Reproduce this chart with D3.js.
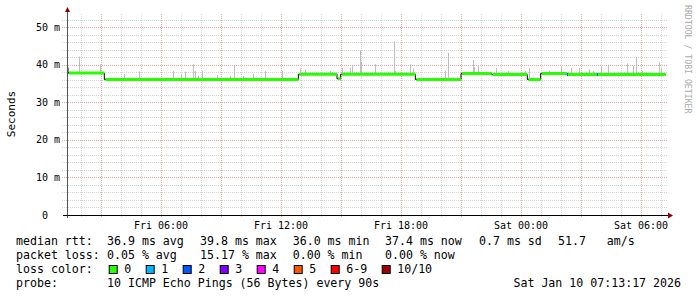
<!DOCTYPE html>
<html>
<head>
<meta charset="utf-8">
<script src="https://cdnjs.cloudflare.com/ajax/libs/d3/7.8.5/d3.min.js"></script>
<style>
body { margin: 0; background: #fff; }
text { font-family: "DejaVu Sans Mono", monospace; }
</style>
</head>
<body>
<div id="chart"></div>
<script>
var width = 697;
var height = 297;

// median rtt steps (value holds until the next time)
var medianTimes = ["2026-01-09 01:18", "2026-01-09 01:21", "2026-01-09 03:10", "2026-01-09 12:52",
  "2026-01-09 14:48", "2026-01-09 14:59", "2026-01-09 18:43", "2026-01-09 21:00", "2026-01-09 22:32",
  "2026-01-10 00:19", "2026-01-10 00:59", "2026-01-10 02:18", "2026-01-10 07:14"];
var medianValues = [39.3, 37.8, 36.1, 37.5, 36.3, 37.5, 36.1, 37.7, 37.4, 36.1, 37.7, 37.4, 37.4];

// smoke spikes: time and top of the ping spread (ms)
var smokeTimes = ["2026-01-09 01:53", "2026-01-09 02:57", "2026-01-09 04:09", "2026-01-09 04:55",
  "2026-01-09 06:35", "2026-01-09 06:59", "2026-01-09 07:13", "2026-01-09 07:37", "2026-01-09 07:42",
  "2026-01-09 07:52", "2026-01-09 08:03", "2026-01-09 08:48", "2026-01-09 09:27", "2026-01-09 09:39",
  "2026-01-09 10:07", "2026-01-09 10:37", "2026-01-09 11:13", "2026-01-09 12:02", "2026-01-09 12:57",
  "2026-01-09 13:13", "2026-01-09 14:27", "2026-01-09 15:04", "2026-01-09 15:27", "2026-01-09 15:33",
  "2026-01-09 15:57", "2026-01-09 16:00", "2026-01-09 16:43", "2026-01-09 17:39", "2026-01-09 17:43",
  "2026-01-09 18:28", "2026-01-09 18:36", "2026-01-09 20:12", "2026-01-09 20:22", "2026-01-09 21:35",
  "2026-01-09 21:39", "2026-01-09 21:52", "2026-01-09 22:45", "2026-01-09 23:22", "2026-01-10 00:12",
  "2026-01-10 00:24", "2026-01-10 01:24", "2026-01-10 01:59", "2026-01-10 02:12", "2026-01-10 02:29",
  "2026-01-10 02:55", "2026-01-10 03:25", "2026-01-10 03:35", "2026-01-10 03:59", "2026-01-10 04:22",
  "2026-01-10 05:19", "2026-01-10 05:36", "2026-01-10 05:45", "2026-01-10 06:02", "2026-01-10 06:55",
  "2026-01-10 06:59"];
var smokeTops = [42.2, 40.2, 37.6, 38.2, 38.4, 37.4, 38.2, 40.2, 38.4, 37.1, 38.4, 37.3, 37.0, 40.0,
  37.0, 37.6, 38.4, 38.4, 39.1, 38.8, 38.4, 39.1, 39.1, 39.7, 43.8, 40.8, 40.2, 46.3, 38.4, 40.2,
  39.1, 38.4, 43.2, 41.3, 39.4, 40.0, 39.1, 38.4, 38.4, 39.1, 38.4, 39.7, 37.8, 39.1, 39.1, 38.8,
  38.4, 39.7, 40.0, 40.4, 39.7, 42.2, 38.4, 40.7, 39.1];

// samples with packet loss (count of 10)
var lossTimes = ["2026-01-10 02:18", "2026-01-10 03:48"];
var lossCounts = [2, 2];

var lossLabels = ["0", "1", "2", "3", "4", "5", "6-9", "10/10"];
var lossColors = ["#26ff00", "#00b8ff", "#0059ff", "#7e00ff", "#ff00ff", "#ff5500", "#ff0000", "#a10000"];

var yTicks = [0, 10, 20, 30, 40, 50];
var rttStats = ["36.9 ms avg", "39.8 ms max", "36.0 ms min", "37.4 ms now", "0.7 ms sd", "51.7   am/s"];
var lossStats = ["0.05 % avg", "15.17 % max", "0.00 % min", "0.00 % now"];
var probeText = "10 ICMP Echo Pings (56 Bytes) every 90s";
var stampText = "Sat Jan 10 07:13:17 2026";

var parse = d3.utcParse("%Y-%m-%d %H:%M");
var median = medianTimes.map(function(t, i) { return {t: parse(t), v: medianValues[i]}; });
var smoke = smokeTimes.map(function(t, i) { return {t: parse(t), v: smokeTops[i]}; });

function medianAt(t) {
  var v = median[0].v;
  median.forEach(function(d) { if (d.t <= t) v = d.v; });
  return v;
}

var svg = d3.select("#chart").append("svg")
  .attr("width", width)
  .attr("height", height);

var plotLeft = 67, plotRight = 667, plotTop = 14, plotBottom = 215;

var x = d3.scaleUtc()
  .domain([parse("2026-01-09 01:18"), parse("2026-01-10 07:18")])
  .range([plotLeft, plotRight]);

var y = d3.scaleLinear()
  .domain([0, 53.55])
  .range([plotBottom, plotTop]);

// grid
var hours = d3.utcHour.every(1).range(x.domain()[0], x.domain()[1]);
svg.append("g").selectAll("line")
  .data(hours)
  .enter().append("line")
  .attr("x1", function(d) { return Math.round(x(d)) + 0.5; })
  .attr("x2", function(d) { return Math.round(x(d)) + 0.5; })
  .attr("y1", plotTop)
  .attr("y2", plotBottom + 3)
  .attr("stroke", function(d) { return d.getUTCHours() % 3 == 0 ? "#e3a8a8" : "#d4d4d4"; })
  .attr("stroke-dasharray", "1,1");

var yMinor = d3.range(2, 54, 2);
svg.append("g").selectAll("line")
  .data(yMinor)
  .enter().append("line")
  .attr("x1", plotLeft - 5)
  .attr("x2", plotRight + 1)
  .attr("y1", function(d) { return Math.round(y(d)) + 0.5; })
  .attr("y2", function(d) { return Math.round(y(d)) + 0.5; })
  .attr("stroke", function(d) { return d % 10 == 0 ? "#e3a8a8" : "#d4d4d4"; })
  .attr("stroke-dasharray", "1,1");

// smoke
svg.append("g").selectAll("rect")
  .data(smoke)
  .enter().append("rect")
  .attr("x", function(d) { return Math.round(x(d.t)); })
  .attr("width", 1)
  .attr("y", function(d) { return y(d.v); })
  .attr("height", function(d) { return y(medianAt(d.t)) - y(d.v); })
  .attr("fill", "#bdbdbd");

// median: thin black step, then green segments
var step = d3.line()
  .x(function(d) { return x(d.t); })
  .y(function(d) { return y(d.v); })
  .curve(d3.curveStepAfter);

svg.append("path")
  .attr("d", step(median))
  .attr("fill", "none")
  .attr("stroke", "#000")
  .attr("stroke-width", 1);

svg.append("g").selectAll("line")
  .data(median.slice(0, -1))
  .enter().append("line")
  .attr("x1", function(d) { return x(d.t) + 1; })
  .attr("x2", function(d, i) { return x(median[i + 1].t); })
  .attr("y1", function(d) { return y(d.v); })
  .attr("y2", function(d) { return y(d.v); })
  .attr("stroke", lossColors[0])
  .attr("stroke-width", 3);

svg.append("g").selectAll("rect")
  .data(lossTimes)
  .enter().append("rect")
  .attr("x", function(d) { return Math.round(x(parse(d))); })
  .attr("width", 1)
  .attr("y", function(d) { return y(medianAt(parse(d))) - 1.5; })
  .attr("height", 3)
  .attr("fill", function(d, i) { return lossColors[lossCounts[i]]; });

// axes
svg.append("line")
  .attr("x1", plotLeft + 0.5).attr("x2", plotLeft + 0.5)
  .attr("y1", plotTop - 4).attr("y2", plotBottom + 3)
  .attr("stroke", "#555");
svg.append("line")
  .attr("x1", plotLeft - 4).attr("x2", plotRight + 2)
  .attr("y1", plotBottom + 0.5).attr("y2", plotBottom + 0.5)
  .attr("stroke", "#000");
svg.append("path")
  .attr("d", "M" + (plotLeft - 2) + "," + (plotTop - 2) + "L" + (plotLeft + 3) + "," + (plotTop - 2) + "L" + (plotLeft + 0.5) + "," + (plotTop - 7) + "Z")
  .attr("fill", "#8b0000");
svg.append("path")
  .attr("d", "M" + (plotRight + 1) + "," + (plotBottom - 2.5) + "L" + (plotRight + 1) + "," + (plotBottom + 3.5) + "L" + (plotRight + 6) + "," + (plotBottom + 0.5) + "Z")
  .attr("fill", "#8b0000");

// tick labels
svg.append("g").selectAll("text")
  .data(yTicks)
  .enter().append("text")
  .attr("x", function(d) { return d == 0 ? 48 : 60; })
  .attr("y", function(d) { return y(d) + 3.5; })
  .attr("text-anchor", "end")
  .attr("font-size", "10px")
  .text(function(d) { return d == 0 ? "0" : d + " m"; });

var labelHours = d3.utcHour.every(6).range(x.domain()[0], x.domain()[1]);
var fmt = d3.utcFormat("%a %H:%M");
svg.append("g").selectAll("text")
  .data(labelHours)
  .enter().append("text")
  .attr("x", function(d) { return x(d); })
  .attr("y", 228.5)
  .attr("text-anchor", "middle")
  .attr("font-size", "10px")
  .text(function(d) { return fmt(d); });

svg.append("text")
  .attr("transform", "translate(15,114) rotate(-90)")
  .attr("text-anchor", "middle")
  .attr("font-size", "11px")
  .text("Seconds");

svg.append("text")
  .attr("transform", "translate(685,5) rotate(90)")
  .attr("font-size", "8.2px")
  .attr("fill", "#aaa")
  .text("RRDTOOL / TOBI OETIKER");

// legend
var fs = "11.6px";
var cols = [107, 200, 292.7, 385, 479, 558];
svg.append("text").attr("x", 16).attr("y", 245).attr("font-size", fs).text("median rtt:");
rttStats.forEach(function(s, i) {
  svg.append("text").attr("x", cols[i]).attr("y", 245).attr("font-size", fs)
    .attr("xml:space", "preserve").style("white-space", "pre").text(s);
});
svg.append("text").attr("x", 16).attr("y", 259).attr("font-size", fs).text("packet loss:");
lossStats.forEach(function(s, i) {
  svg.append("text").attr("x", cols[i]).attr("y", 259).attr("font-size", fs).text(s);
});
svg.append("text").attr("x", 16).attr("y", 273).attr("font-size", fs).text("loss color:");
var sx = 108.7;
lossLabels.forEach(function(s, i) {
  svg.append("rect").attr("x", sx + 0.5).attr("y", 265.5).attr("width", 8).attr("height", 8)
    .attr("fill", lossColors[i]).attr("stroke", "#000");
  svg.append("text").attr("x", sx + 15.5).attr("y", 273).attr("font-size", fs).text(s);
  sx += 30 + 7 * s.length;
});
svg.append("text").attr("x", 16).attr("y", 287).attr("font-size", fs).text("probe:");
svg.append("text").attr("x", 107).attr("y", 287).attr("font-size", fs).text(probeText);
svg.append("text").attr("x", 681).attr("y", 287).attr("text-anchor", "end").attr("font-size", fs).text(stampText);
</script>
</body>
</html>
